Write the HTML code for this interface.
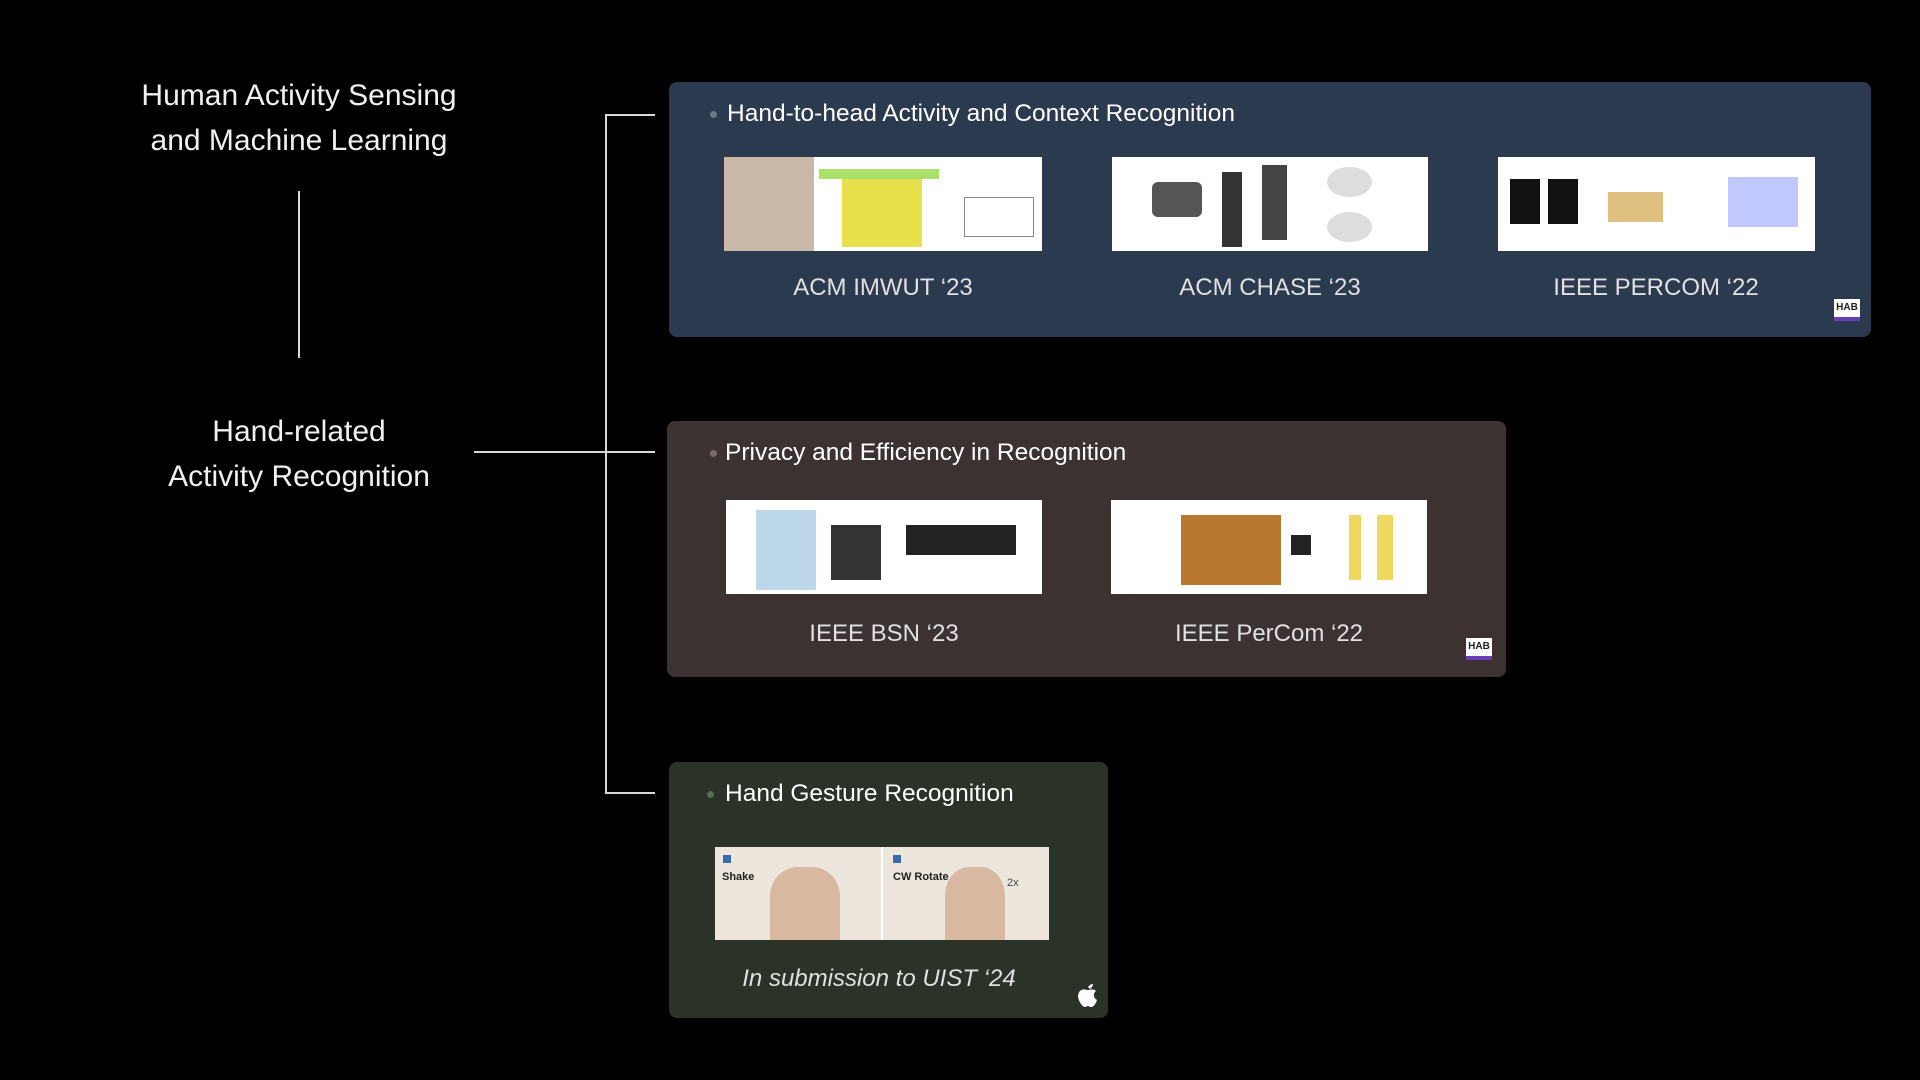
<!DOCTYPE html>
<html><head><meta charset="utf-8"><style>
*{margin:0;padding:0;box-sizing:border-box}
body{width:1920px;height:1080px;background:#000;position:relative;overflow:hidden;font-family:"Liberation Sans",sans-serif;color:#fff}
.abs{position:absolute}
.line{position:absolute;background:#d8d8d8}
.panel{position:absolute;border-radius:8px}
.ptitle{position:absolute;font-size:24.5px;color:#fff;white-space:nowrap}
.dot{position:absolute;width:7px;height:7px;border-radius:50%;background:#6a7a8a}
.thumb{position:absolute;background:#fff;overflow:hidden}
.lab{position:absolute;font-size:24px;color:#e0e0e0;text-align:center;width:400px}
.hab{position:absolute;background:#fff;color:#222;font-size:10px;font-weight:bold;text-align:center;line-height:18px;border-bottom:4px solid #6a3fb5}
</style></head><body>
<div class="abs" style="left:99px;top:73px;width:400px;text-align:center;font-size:30px;line-height:45px;color:#f0f0f0">Human Activity Sensing<br>and Machine Learning</div>
<div class="line" style="left:298px;top:191px;width:2px;height:167px"></div>
<div class="abs" style="left:99px;top:409px;width:400px;text-align:center;font-size:30px;line-height:45px;color:#f0f0f0">Hand-related<br>Activity Recognition</div>
<div class="line" style="left:474px;top:451px;width:181px;height:2px"></div>
<div class="line" style="left:605px;top:114px;width:2px;height:680px"></div>
<div class="line" style="left:605px;top:114px;width:50px;height:2px"></div>
<div class="line" style="left:605px;top:792px;width:50px;height:2px"></div>

<div class="panel" style="left:669px;top:82px;width:1202px;height:255px;background:#2b3a4e">
  <div class="dot" style="left:41px;top:29px"></div>
  <div class="ptitle" style="left:58px;top:18px">Hand-to-head Activity and Context Recognition</div>
  <div class="thumb" style="left:55px;top:75px;width:318px;height:94px">
    <div class="abs" style="left:0;top:0;width:90px;height:94px;background:#c8b8a8"></div>
    <div class="abs" style="left:118px;top:20px;width:80px;height:70px;background:#e6e04a"></div>
    <div class="abs" style="left:95px;top:12px;width:120px;height:10px;background:#a9e06a"></div>
    <div class="abs" style="left:240px;top:40px;width:70px;height:40px;border:1px solid #888"></div>
  </div>
  <div class="thumb" style="left:443px;top:75px;width:316px;height:94px">
    <div class="abs" style="left:40px;top:25px;width:50px;height:35px;background:#555;border-radius:6px"></div>
    <div class="abs" style="left:110px;top:15px;width:20px;height:75px;background:#333"></div>
    <div class="abs" style="left:150px;top:8px;width:25px;height:75px;background:#444"></div>
    <div class="abs" style="left:215px;top:10px;width:45px;height:30px;background:#ddd;border-radius:50%"></div>
    <div class="abs" style="left:215px;top:55px;width:45px;height:30px;background:#ddd;border-radius:50%"></div>
  </div>
  <div class="thumb" style="left:829px;top:75px;width:317px;height:94px">
    <div class="abs" style="left:12px;top:22px;width:30px;height:45px;background:#111"></div>
    <div class="abs" style="left:50px;top:22px;width:30px;height:45px;background:#111"></div>
    <div class="abs" style="left:110px;top:35px;width:55px;height:30px;background:#e0c080"></div>
    <div class="abs" style="left:230px;top:20px;width:70px;height:50px;background:#c0c8ff"></div>
  </div>
  <div class="lab" style="left:14px;top:192px">ACM IMWUT ‘23</div>
  <div class="lab" style="left:401px;top:192px">ACM CHASE ‘23</div>
  <div class="lab" style="left:787px;top:192px">IEEE PERCOM ‘22</div>
  <div class="hab" style="left:1165px;top:217px;width:26px;height:22px">HAB</div>
</div>

<div class="panel" style="left:667px;top:421px;width:839px;height:256px;background:#3c3232">
  <div class="dot" style="left:43px;top:29px;background:#7a6a6a"></div>
  <div class="ptitle" style="left:58px;top:18px">Privacy and Efficiency in Recognition</div>
  <div class="thumb" style="left:59px;top:79px;width:316px;height:94px">
    <div class="abs" style="left:30px;top:10px;width:60px;height:80px;background:#bcd8e8"></div>
    <div class="abs" style="left:105px;top:25px;width:50px;height:55px;background:#333"></div>
    <div class="abs" style="left:180px;top:25px;width:110px;height:30px;background:#222"></div>
  </div>
  <div class="thumb" style="left:444px;top:79px;width:316px;height:94px">
    <div class="abs" style="left:70px;top:15px;width:100px;height:70px;background:#b87830"></div>
    <div class="abs" style="left:180px;top:35px;width:20px;height:20px;background:#222"></div>
    <div class="abs" style="left:238px;top:15px;width:12px;height:65px;background:#f0d860"></div>
    <div class="abs" style="left:266px;top:15px;width:16px;height:65px;background:#f0d860"></div>
  </div>
  <div class="lab" style="left:17px;top:199px">IEEE BSN ‘23</div>
  <div class="lab" style="left:402px;top:199px">IEEE PerCom ‘22</div>
  <div class="hab" style="left:799px;top:217px;width:26px;height:22px">HAB</div>
</div>

<div class="panel" style="left:669px;top:762px;width:439px;height:256px;background:#2b3328">
  <div class="dot" style="left:38px;top:29px;background:#5a6a55"></div>
  <div class="ptitle" style="left:56px;top:18px">Hand Gesture Recognition</div>
  <div class="thumb" style="left:46px;top:85px;width:334px;height:93px;background:#ece6dc">
    <div class="abs" style="left:8px;top:8px;width:8px;height:8px;background:#3a6ab0"></div>
    <div class="abs" style="left:7px;top:24px;font-size:11px;color:#222;font-weight:bold">Shake</div>
    <div class="abs" style="left:178px;top:8px;width:8px;height:8px;background:#3a6ab0"></div>
    <div class="abs" style="left:178px;top:24px;font-size:11px;color:#222;font-weight:bold">CW Rotate</div>
    <div class="abs" style="left:55px;top:20px;width:70px;height:73px;background:#d8b8a0;border-radius:40% 40% 0 0"></div>
    <div class="abs" style="left:230px;top:20px;width:60px;height:73px;background:#d8b8a0;border-radius:40% 40% 0 0"></div>
    <div class="abs" style="left:292px;top:30px;font-size:11px;color:#444">2x</div>
    <div class="abs" style="left:166px;top:0;width:2px;height:93px;background:#fff"></div>
  </div>
  <div class="lab" style="left:10px;top:203px;font-style:italic">In submission to UIST ‘24</div>
  <div class="abs" style="left:407px;top:218px;font-size:26px;color:#fff"><svg width="24" height="28" viewBox="0 0 24 28"><path d="M12 7c2-3 5-3 5-3s0 3-3 5M4 11c3-3 6-1 8-1s5-2 8 1c-3 2-3 7 1 9-1 3-3 7-6 7-2 0-2-1-3-1s-2 1-3 1c-3 0-7-7-7-11 0-2 1-4 2-5z" fill="#fff"/></svg></div>
</div>
</body></html>
